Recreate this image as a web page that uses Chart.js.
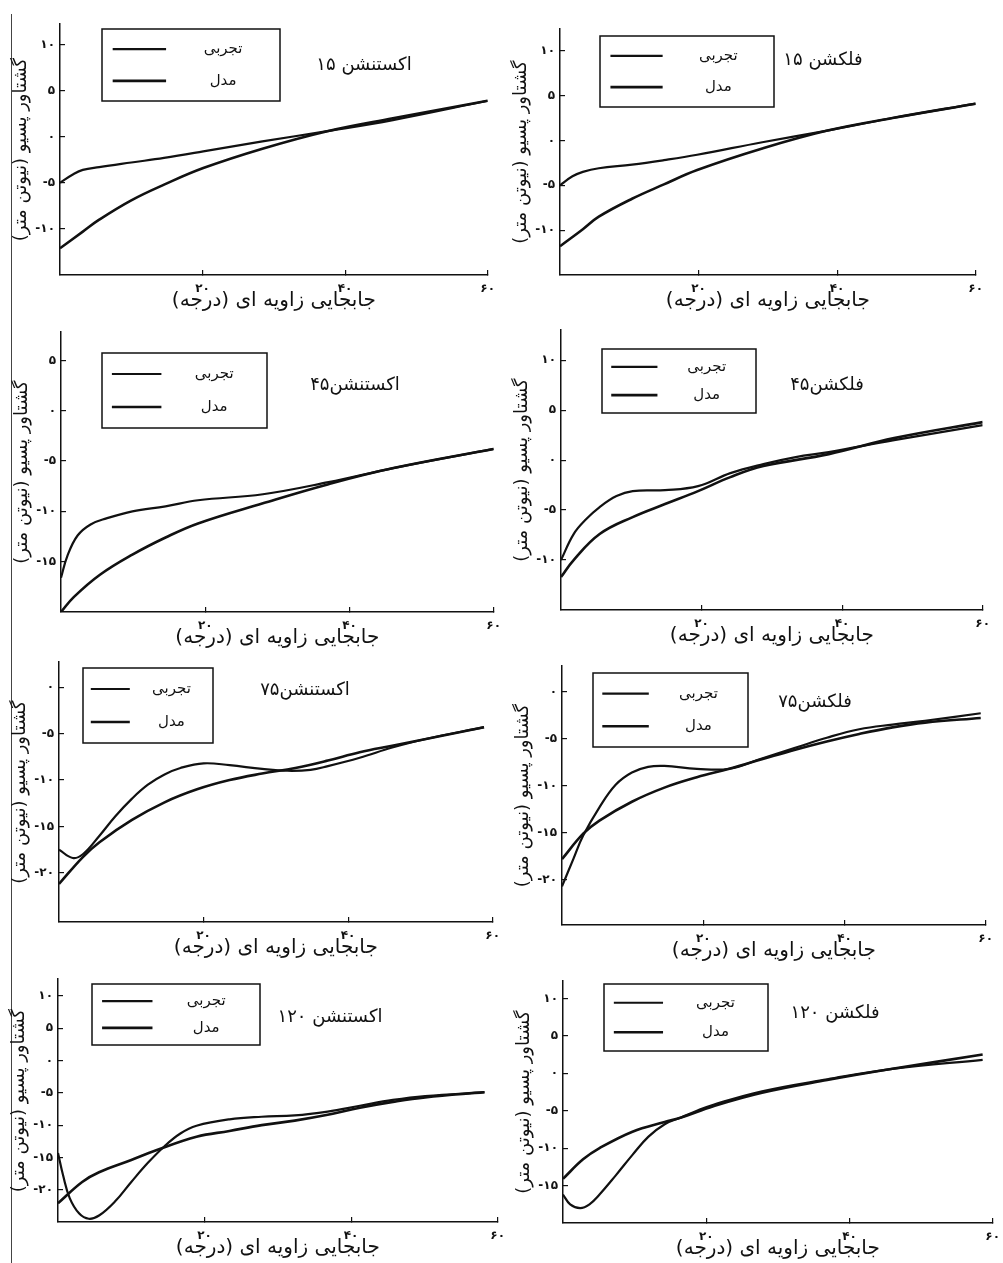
<!DOCTYPE html>
<html lang="fa">
<head>
<meta charset="utf-8">
<title>گشتاور پسیو - تجربی و مدل</title>
<script src="https://cdn.jsdelivr.net/npm/chart.js@4.4.1/dist/chart.umd.min.js"></script>
<style>
  html, body { margin: 0; padding: 0; background: #fff; }
  #page { position: relative; width: 1003px; height: 1263px; overflow: hidden; background: #fff; }
  #page .rule { position: absolute; left: 11px; top: 14px; width: 1px; height: 1249px; background: #444; }
  #page canvas { position: absolute; }
</style>
</head>
<body>
<div id="page"><div class="rule"></div></div>
<script>
// ---- data (angle in degrees, torque in N.m) ----
const xTicks = [20, 40, 60];
const seriesLabels = ['تجربی', 'مدل'];
const panelTitles = ['اکستنشن ۱۵', 'فلکشن ۱۵', 'اکستنشن۴۵', 'فلکشن۴۵', 'اکستنشن۷۵', 'فلکشن۷۵', 'اکستنشن ۱۲۰', 'فلکشن ۱۲۰'];

// extension 15
const ext15ExpX = [0, 1.8, 3.2, 5.5, 10, 14.6, 20.1, 28.4, 37.5, 46.7, 60];
const ext15ExpY = [-5, -4.1, -3.6, -3.3, -2.8, -2.3, -1.6, -0.5, 0.6, 1.8, 3.9];
const ext15ModelX = [0, 3.2, 5.5, 10, 14.6, 20.1, 28.4, 37.5, 46.7, 60];
const ext15ModelY = [-12.1, -10.3, -9.0, -6.9, -5.2, -3.4, -1.3, 0.6, 2.0, 3.9];
const ext15YTicks = [10, 5, 0, -5, -10];

// flexion 15
const flx15ExpX = [0, 1.8, 3.3, 5.6, 10.4, 15, 19.8, 29.2, 38.6, 48, 60];
const flx15ExpY = [-5, -4.0, -3.5, -3.1, -2.7, -2.2, -1.6, -0.2, 1.1, 2.5, 4.1];
const flx15ModelX = [0, 3.3, 5.6, 10.4, 15, 19.8, 29.2, 38.6, 48, 60];
const flx15ModelY = [-11.8, -9.9, -8.5, -6.5, -4.9, -3.3, -0.9, 1.1, 2.5, 4.1];
const flx15YTicks = [10, 5, 0, -5, -10];

// extension 45
const ext45ExpX = [0, 0.9, 2.3, 4.1, 6.3, 9.9, 14.5, 19, 28, 37.1, 46.1, 60];
const ext45ExpY = [-16.6, -14.4, -12.4, -11.3, -10.7, -10.0, -9.5, -8.9, -8.3, -7.1, -5.7, -3.8];
const ext45ModelX = [0, 1.8, 5.4, 9.9, 14.5, 19, 28, 37.1, 46.1, 60];
const ext45ModelY = [-20, -18.5, -16.3, -14.3, -12.6, -11.2, -9.2, -7.3, -5.7, -3.8];
const ext45YTicks = [5, 0, -5, -10, -15];

// flexion 45
const flx45ExpX = [0, 1.8, 3.6, 5.5, 7.9, 10.2, 14.8, 19.5, 24.1, 28.8, 33.4, 38.1, 47.4, 60];
const flx45ExpY = [-10, -7.4, -5.9, -4.7, -3.6, -3.1, -3.0, -2.6, -1.3, -0.4, 0.3, 0.8, 2.0, 3.5];
const flx45ModelX = [0, 1.8, 5.5, 10.2, 14.8, 19.5, 24.1, 28.8, 38.1, 47.4, 60];
const flx45ModelY = [-11.7, -10.0, -7.4, -5.7, -4.4, -3.1, -1.7, -0.6, 0.6, 2.2, 3.8];
const flx45YTicks = [10, 5, 0, -5, -10];

// extension 75
const ext75ExpX = [0, 1.9, 3.3, 5.6, 7.8, 10.1, 12.3, 14.6, 16.8, 20, 23.6, 28.1, 31.6, 34.8, 37.2, 41.6, 46.1, 50.6, 58.8];
const ext75ExpY = [-17.5, -18.4, -18.0, -16.0, -13.9, -12.0, -10.5, -9.4, -8.7, -8.2, -8.4, -8.8, -9.0, -8.9, -8.5, -7.6, -6.5, -5.6, -4.3];
const ext75ModelX = [0, 3.3, 5.6, 10.1, 14.6, 19.1, 23.6, 28.1, 32.7, 37.2, 41.6, 46.1, 50.6, 58.8];
const ext75ModelY = [-21.2, -18.3, -16.7, -14.3, -12.4, -11.0, -10.0, -9.3, -8.7, -7.9, -7.0, -6.3, -5.6, -4.3];
const ext75YTicks = [0, -5, -10, -15, -20];

// flexion 75
const flx75ExpX = [0, 1.6, 3.0, 5.3, 7.6, 9.9, 12.2, 14.5, 19.1, 23.7, 28.3, 32.9, 37.5, 42.1, 46.8, 51.4, 59.3];
const flx75ExpY = [-20.7, -17.8, -15.3, -12.3, -9.9, -8.6, -8.0, -7.9, -8.2, -8.2, -7.1, -6.0, -4.9, -4.0, -3.5, -3.1, -2.3];
const flx75ModelX = [0, 3.0, 5.3, 9.9, 14.5, 19.1, 23.7, 28.3, 32.9, 37.5, 42.1, 46.8, 51.4, 59.3];
const flx75ModelY = [-17.8, -15.1, -13.7, -11.7, -10.2, -9.1, -8.2, -7.2, -6.2, -5.3, -4.5, -3.8, -3.3, -2.8];
const flx75YTicks = [0, -5, -10, -15, -20];

// extension 120
const ext120ExpX = [0, 0.7, 1.6, 2.9, 4.2, 5.6, 7.8, 10.0, 12.3, 14.5, 16.7, 18.9, 23.4, 27.8, 32.3, 36.8, 41.2, 45.7, 50.1, 58.2];
const ext120ExpY = [-14.3, -17.8, -21.3, -23.7, -24.5, -24.0, -21.8, -18.8, -15.8, -13.3, -11.3, -10.1, -9.1, -8.7, -8.5, -7.9, -7.0, -6.1, -5.5, -4.9];
const ext120ModelX = [0, 3.3, 5.6, 10.0, 13.4, 18.9, 23.4, 27.8, 32.3, 36.8, 41.2, 45.7, 50.1, 58.2];
const ext120ModelY = [-22.1, -18.8, -17.3, -15.4, -13.9, -11.8, -10.9, -10.0, -9.3, -8.4, -7.3, -6.4, -5.7, -4.9];
const ext120YTicks = [10, 5, 0, -5, -10, -15, -20];

// flexion 120
const flx120ExpX = [0, 1.0, 2.4, 3.7, 5.1, 7.4, 9.7, 11.9, 14.2, 16.5, 18.7, 21, 27.8, 36.9, 46, 58.6];
const flx120ExpY = [-16.2, -17.5, -18.0, -17.5, -16.2, -13.6, -10.9, -8.5, -6.8, -5.9, -5.0, -4.2, -2.4, -0.8, 0.6, 1.8];
const flx120ModelX = [0, 2.8, 5.1, 9.7, 14.2, 16.5, 21, 27.8, 36.9, 46, 58.6];
const flx120ModelY = [-14.1, -11.5, -10.0, -7.8, -6.5, -5.9, -4.4, -2.6, -0.9, 0.6, 2.5];
const flx120YTicks = [10, 5, 0, -5, -10, -15];

// y axis limits [min, max] per panel
const yLimits = [[-15, 12.2], [-15, 12.4], [-20, 7.8], [-15, 13], [-25.3, 2.7], [-24.8, 2.7], [-25, 12.6], [-20, 12.3]];

// ---- layout (page pixels) ----
// axisX: y axis position, x60: where 60 deg falls, top/axisY: top of y axis and x axis line
const layout = [
  { axisX: 60,  x60: 497,  top: 15,  axisY: 275,  legend: [102, 29, 178, 72], titleAt: [364, 65] },
  { axisX: 560, x60: 985,  top: 20,  axisY: 275,  legend: [600, 36, 174, 71], titleAt: [823, 60] },
  { axisX: 61,  x60: 503,  top: 323, axisY: 612,  legend: [102, 353, 165, 75], titleAt: [355, 385] },
  { axisX: 561, x60: 992,  top: 321, axisY: 610,  legend: [602, 349, 154, 64], titleAt: [827, 385] },
  { axisX: 59,  x60: 502,  top: 653, axisY: 922,  legend: [83, 668, 130, 75], titleAt: [305, 690] },
  { axisX: 562, x60: 995,  top: 657, axisY: 925,  legend: [593, 673, 155, 74], titleAt: [815, 702] },
  { axisX: 58,  x60: 507,  top: 970, axisY: 1222, legend: [92, 984, 168, 61], titleAt: [330, 1017] },
  { axisX: 563, x60: 1002, top: 972, axisY: 1223, legend: [604, 984, 164, 67], titleAt: [835, 1013] }
];

const curves = [
  [ext15ExpX, ext15ExpY, ext15ModelX, ext15ModelY, ext15YTicks],
  [flx15ExpX, flx15ExpY, flx15ModelX, flx15ModelY, flx15YTicks],
  [ext45ExpX, ext45ExpY, ext45ModelX, ext45ModelY, ext45YTicks],
  [flx45ExpX, flx45ExpY, flx45ModelX, flx45ModelY, flx45YTicks],
  [ext75ExpX, ext75ExpY, ext75ModelX, ext75ModelY, ext75YTicks],
  [flx75ExpX, flx75ExpY, flx75ModelX, flx75ModelY, flx75YTicks],
  [ext120ExpX, ext120ExpY, ext120ModelX, ext120ModelY, ext120YTicks],
  [flx120ExpX, flx120ExpY, flx120ModelX, flx120ModelY, flx120YTicks]
];

const FONT = "'DejaVu Sans', sans-serif";
const INK = '#111';
const PAD_LEFT = 60, PAD_TOP = 8, PAD_RIGHT = 10, PAD_BOTTOM = 40;

const faDigits = '۰۱۲۳۴۵۶۷۸۹';
const fa = v => (v < 0 ? '-' : '') + String(Math.abs(v)).replace(/\d/g, d => faDigits[d]);
const rtl = s => s + '\u200F'; // keeps trailing brackets inside the rtl run
const points = (xs, ys) => xs.map((x, k) => ({ x, y: ys[k] }));

// legend box + panel caption drawn inside the plot
const decor = {
  id: 'decor',
  afterDraw(chart, args, opts) {
    const { ctx } = chart;
    const [bx, by, bw, bh] = opts.box;
    ctx.save();
    ctx.strokeStyle = INK;
    ctx.fillStyle = INK;
    ctx.lineWidth = 1.5;
    ctx.strokeRect(bx, by, bw, bh);
    ctx.font = `15px ${FONT}`;
    ctx.textAlign = 'center';
    ctx.textBaseline = 'middle';
    chart.data.datasets.forEach((ds, i) => {
      const y = by + bh * (i ? 0.72 : 0.28);
      ctx.lineWidth = ds.borderWidth;
      ctx.beginPath();
      ctx.moveTo(bx + bw * 0.06, y);
      ctx.lineTo(bx + bw * 0.36, y);
      ctx.stroke();
      ctx.fillText(rtl(ds.label), bx + bw * 0.68, y);
    });
    ctx.font = `18px ${FONT}`;
    ctx.fillText(rtl(opts.title), opts.titleAt[0], opts.titleAt[1]);
    ctx.restore();
  }
};

const page = document.getElementById('page');

layout.forEach((p, i) => {
  const [expX, expY, modX, modY, yTicks] = curves[i];
  const left = p.axisX - PAD_LEFT, top = p.top - PAD_TOP;

  const canvas = document.createElement('canvas');
  canvas.width = p.x60 - p.axisX + PAD_LEFT + PAD_RIGHT;
  canvas.height = p.axisY - p.top + PAD_TOP + PAD_BOTTOM;
  canvas.style.left = left + 'px';
  canvas.style.top = top + 'px';
  page.appendChild(canvas);

  const axisGrid = { display: true, drawOnChartArea: false, drawTicks: true, tickLength: -5, color: INK, lineWidth: 1.2 };
  const axisBorder = { display: true, color: INK, width: 1.5 };

  new Chart(canvas, {
    type: 'line',
    data: {
      datasets: [
        { label: seriesLabels[0], data: points(expX, expY), borderColor: INK, borderWidth: 2.2 },
        { label: seriesLabels[1], data: points(modX, modY), borderColor: INK, borderWidth: 2.6 }
      ]
    },
    options: {
      responsive: false,
      animation: false,
      layout: { padding: { top: PAD_TOP, right: PAD_RIGHT, left: 0, bottom: 0 } },
      elements: {
        point: { radius: 0 },
        line: { tension: 0.4, fill: false }
      },
      plugins: {
        legend: { display: false },
        tooltip: { enabled: false },
        decor: {
          box: [p.legend[0] - left, p.legend[1] - top, p.legend[2], p.legend[3]],
          titleAt: [p.titleAt[0] - left, p.titleAt[1] - top],
          title: panelTitles[i]
        }
      },
      scales: {
        x: {
          type: 'linear',
          min: 0,
          max: 60,
          grid: axisGrid,
          border: axisBorder,
          afterBuildTicks: s => { s.ticks = xTicks.map(v => ({ value: v })); },
          afterFit: s => { s.height = PAD_BOTTOM; },
          ticks: {
            padding: 12,
            maxRotation: 0,
            color: INK,
            font: { family: FONT, size: 12, weight: 'bold' },
            callback: v => fa(v)
          },
          title: {
            display: true,
            text: rtl('جابجایی زاویه ای (درجه)'),
            color: INK,
            font: { family: FONT, size: 20 },
            padding: { top: 0, bottom: 2 }
          }
        },
        y: {
          min: yLimits[i][0],
          max: yLimits[i][1],
          grid: axisGrid,
          border: axisBorder,
          afterBuildTicks: s => { s.ticks = yTicks.map(v => ({ value: v })); },
          afterFit: s => { s.width = PAD_LEFT; },
          ticks: {
            padding: 10,
            color: INK,
            font: { family: FONT, size: 12, weight: 'bold' },
            callback: v => fa(v)
          },
          title: {
            display: true,
            text: rtl('گشتاور پسیو (نیوتن متر)'),
            color: INK,
            font: { family: FONT, size: 18 },
            padding: { top: 11, bottom: 0 }
          }
        }
      }
    },
    plugins: [decor]
  });
});
</script>
</body>
</html>
